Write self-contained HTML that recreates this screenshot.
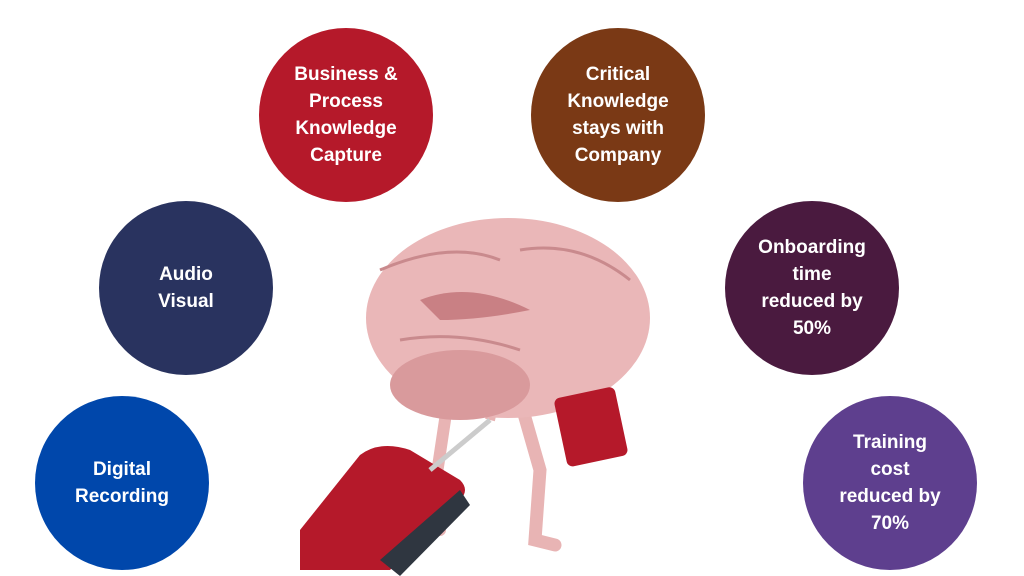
<!DOCTYPE html>
<html><head><meta charset="utf-8"><style>
body{margin:0;width:1024px;height:576px;background:#fff;position:relative;overflow:hidden;font-family:"Liberation Sans",sans-serif}
.c{position:absolute;width:174px;height:174px;border-radius:50%;display:flex;align-items:center;justify-content:center;text-align:center;color:#fff;font-weight:bold;font-size:19px;line-height:27px}
</style></head><body>
<div class="c" style="left:259px;top:28px;background:#B5192A">Business &amp;<br>Process<br>Knowledge<br>Capture</div>
<div class="c" style="left:531px;top:28px;background:#7A3915">Critical<br>Knowledge<br>stays with<br>Company</div>
<div class="c" style="left:99px;top:201px;background:#29335F">Audio<br>Visual</div>
<div class="c" style="left:725px;top:201px;background:#4A1A3F">Onboarding<br>time<br>reduced by<br>50%</div>
<div class="c" style="left:35px;top:396px;background:#0047AB">Digital<br>Recording</div>
<div class="c" style="left:803px;top:396px;background:#5E3F8E">Training<br>cost<br>reduced by<br>70%</div>
<svg style="position:absolute;left:0;top:0" width="1024" height="576">
<path d="M445 420 L430 520 L440 530" stroke="#e8b4b4" stroke-width="12" fill="none" stroke-linecap="round"/>
<path d="M520 400 L540 470 L535 540 L555 545" stroke="#e8b4b4" stroke-width="13" fill="none" stroke-linecap="round"/>
<path d="M480 330 Q500 380 490 420" stroke="#e8b4b4" stroke-width="10" fill="none"/>
<path d="M560 330 L575 400" stroke="#e8b4b4" stroke-width="10" fill="none"/>
<ellipse cx="508" cy="318" rx="142" ry="100" fill="#eab7b8"/>
<ellipse cx="460" cy="385" rx="70" ry="35" fill="#d99a9c"/>
<path d="M420 300 Q470 280 530 310 Q480 320 440 320 Z" fill="#c98084"/>
<path d="M380 270 Q450 240 500 260 M520 250 Q580 240 630 280 M400 340 Q460 330 520 350" stroke="#c98a8d" stroke-width="3" fill="none"/>
<rect x="560" y="392" width="62" height="70" rx="6" fill="#b5192a" transform="rotate(-12 590 427)"/>
<path d="M300 530 L360 455 Q380 440 410 450 L460 480 Q470 490 460 500 L390 570 L300 570 Z" fill="#b5192a"/>
<path d="M380 560 L460 490 L470 505 L400 576 Z" fill="#2f3640"/>
<path d="M430 470 L490 420" stroke="#ccc" stroke-width="5"/>
</svg>
</body></html>
